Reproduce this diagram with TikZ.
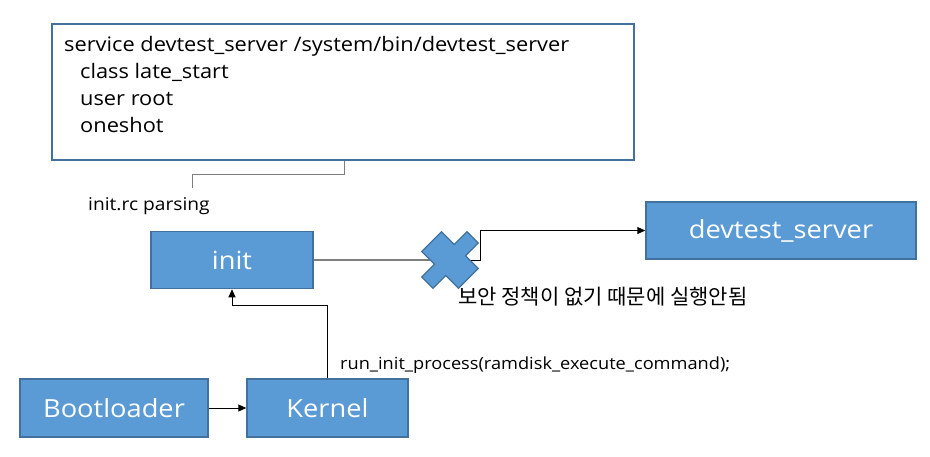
\documentclass[tikz,border=0pt]{standalone}
\usepackage{fontspec}
\setmainfont[FakeStretch=1.09]{Open Sans}
\newfontfamily\krfont{Noto Sans CJK KR}
\usetikzlibrary{arrows.meta}
\definecolor{boxfill}{HTML}{5B9BD5}
\definecolor{boxline}{HTML}{41719C}
\definecolor{greyline}{HTML}{7F7F7F}
\tikzset{
  bluebox/.style={draw=boxline, fill=boxfill, line width=1.5pt, text=white, font=\fontsize{25}{28}\selectfont, inner sep=0pt},
  conn/.style={line width=1pt, -{Triangle[length=8pt,width=7pt]}},
  lbl/.style={font=\fontsize{17.6}{20}\selectfont, inner sep=0pt, anchor=west},
}
\begin{document}
\begin{tikzpicture}[x=1pt,y=-1pt]
\useasboundingbox (0,0) rectangle (930,456);
% top box
\node[draw=boxline, line width=1.5pt, fill=white, minimum width=582pt, minimum height=136pt, inner sep=0pt] (rc) at (343,92) {};
\node[anchor=north west, inner sep=0pt, align=left, font=\fontsize{20}{27}\selectfont] (rctext) at (64,36)
 {service devtest\_server /system/bin/devtest\_server\\
 \hspace*{16pt}class late\_start\\
 \hspace*{16pt}user root\\
 \hspace*{16pt}oneshot};
\node[lbl] (parse) at (88,206) {init.rc parsing};
\coordinate (pend) at (192,188);
\draw[greyline, line width=1pt] (rc.south -| 344,0) |- (192,174) -- (pend);
% boxes
\node[bluebox, minimum width=162pt, minimum height=57pt] (init) at (232,260) {init};
\node[bluebox, minimum width=270pt, minimum height=57pt] (dev) at (781,230.5) {devtest\_server};
\node[bluebox, minimum width=188pt, minimum height=58pt] (boot) at (114,408) {Bootloader};
\node[bluebox, minimum width=161pt, minimum height=58pt] (kern) at (327.5,408) {Kernel};
% cross
\coordinate (x) at (450,260);
\draw[greyline, line width=1.8pt] (init.east) -- (x);
\draw[line width=1pt, -{Triangle[length=8pt,width=7pt]}] (x) -- (480,260) |- (dev.west);
\fill[boxfill, draw=boxline, line width=1.2pt, rotate around={45:(x)}]
  (436,252) -- (436,234) -- (464,234) -- (464,252) -- (482,252) -- (482,268) -- (464,268) -- (464,286) -- (436,286) -- (436,268) -- (418,268) -- (418,252) -- cycle;
\node[lbl, font=\krfont\fontsize{21}{24}\selectfont] (kr) at (458,297) {보안 정책이 없기 때문에 실행안됨};
% bottom
\draw[conn] (boot.east) -- (kern.west);
\draw[conn] (kern.north -| 327,0) |- (232,305) -- (init.south);
\node[lbl, font=\fontsize{16.7}{18}\selectfont] (run) at (340,365) {run\_init\_process(ramdisk\_execute\_command);};
\end{tikzpicture}
\end{document}
